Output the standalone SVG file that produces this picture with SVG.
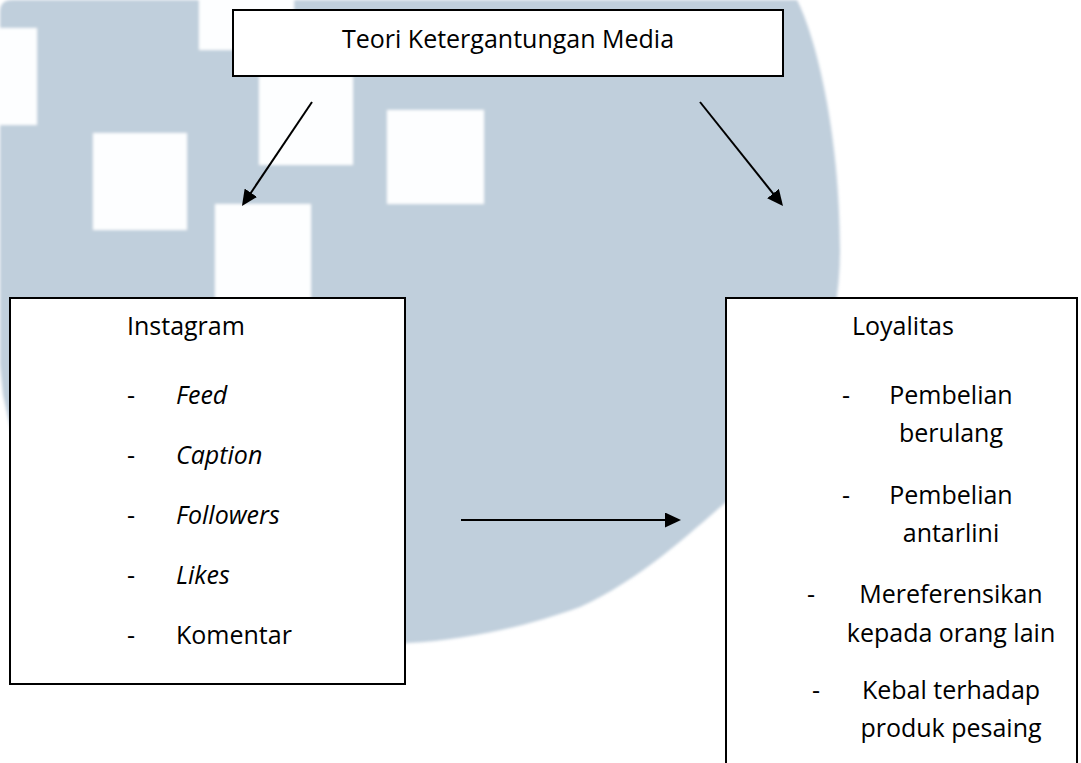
<svg xmlns="http://www.w3.org/2000/svg" width="1081" height="763" viewBox="0 0 1081 763">
  <style>
    .box { fill: #ffffff; stroke: #000000; stroke-width: 2; }
    .t { font-family: "Open Sans", "Noto Sans", "Liberation Sans", sans-serif; font-size: 25px; fill: #000000; }
    .i { font-style: italic; }
    .c { text-anchor: middle; }
    .conn { stroke: #000000; stroke-width: 2; fill: none; marker-end: url(#arrow); }
    .sq { fill: #fdfeff; }
  </style>
  <defs>
    <marker id="arrow" markerUnits="userSpaceOnUse" markerWidth="16" markerHeight="15" refX="12" refY="7.5" orient="auto">
      <path d="M0,0 L16,7.5 L0,15 Z" fill="#000000"/>
    </marker>
    <filter id="soft" x="-5%" y="-5%" width="110%" height="110%">
      <feGaussianBlur stdDeviation="1.6"/>
    </filter>
  </defs>

  <rect x="0" y="0" width="1081" height="763" fill="#ffffff"/>

  <g id="watermark" filter="url(#soft)">
    <path fill="#c0cfdc" d="M0,12 Q0,0 12,0 L797,0 C815,35 840,130 840,250 C840,360 790,450 725,503 C690,533 640,580 580,607 C530,625 470,640 407,643 L380,650 L100,600 L14,445 L3,395 L0,365 Z"/>
    <rect class="sq" x="-5" y="28" width="42" height="97"/>
    <rect class="sq" x="93" y="133" width="94" height="97"/>
    <rect class="sq" x="199" y="-5" width="95" height="55"/>
    <rect class="sq" x="259" y="76" width="94" height="89"/>
    <rect class="sq" x="387" y="110" width="97" height="94"/>
    <rect class="sq" x="215" y="204" width="96" height="96"/>
  </g>

  <g id="connectors">
    <line class="conn" x1="312" y1="102" x2="244.2" y2="202.7"/>
    <line class="conn" x1="700" y1="102" x2="780.5" y2="202.9"/>
    <line class="conn" x1="461" y1="520" x2="677" y2="520"/>
  </g>

  <g id="teori">
    <rect class="box" x="233" y="10" width="550" height="66"/>
    <text class="t c" x="508" y="48">Teori Ketergantungan Media</text>
  </g>

  <g id="instagram">
    <rect class="box" x="10" y="298" width="395" height="386"/>
    <text class="t" x="127" y="335">Instagram</text>
    <text class="t" x="127" y="404">-</text>
    <text class="t i" x="176" y="404">Feed</text>
    <text class="t" x="127" y="464">-</text>
    <text class="t i" x="176" y="464">Caption</text>
    <text class="t" x="127" y="524">-</text>
    <text class="t i" x="176" y="524">Followers</text>
    <text class="t" x="127" y="584">-</text>
    <text class="t i" x="176" y="584">Likes</text>
    <text class="t" x="127" y="644">-</text>
    <text class="t" x="176" y="644">Komentar</text>
  </g>

  <g id="loyalitas">
    <rect class="box" x="726" y="298" width="351" height="480"/>
    <text class="t" x="852" y="335">Loyalitas</text>
    <text class="t" x="842" y="404">-</text>
    <text class="t c" x="951" y="404">Pembelian</text>
    <text class="t c" x="951" y="442">berulang</text>
    <text class="t" x="842" y="504">-</text>
    <text class="t c" x="951" y="504">Pembelian</text>
    <text class="t c" x="951" y="542">antarlini</text>
    <text class="t" x="807" y="603">-</text>
    <text class="t c" x="951" y="603">Mereferensikan</text>
    <text class="t c" x="951" y="642">kepada orang lain</text>
    <text class="t" x="812" y="699">-</text>
    <text class="t c" x="951" y="699">Kebal terhadap</text>
    <text class="t c" x="951" y="737">produk pesaing</text>
  </g>
</svg>
